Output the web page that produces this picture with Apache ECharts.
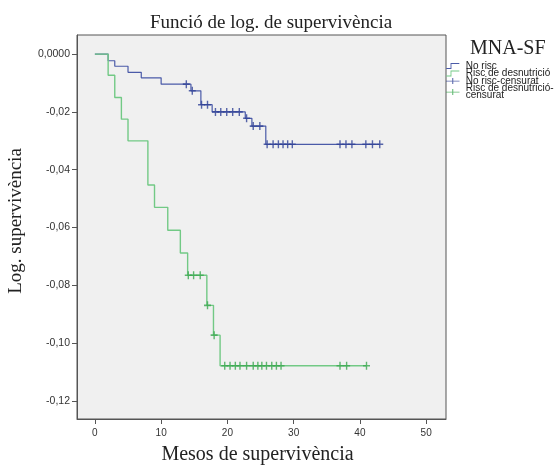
<!DOCTYPE html>
<html>
<head>
<meta charset="utf-8">
<script src="https://cdn.jsdelivr.net/npm/echarts@6/dist/echarts.min.js"></script>
<style>
  html, body { margin: 0; padding: 0; background: #fff; }
  #chart { width: 555px; height: 465px; }
</style>
</head>
<body>
<div id="chart"></div>
<script>
'use strict'

/* Step points: time (months) and log survival after the event */
var noRiscTime = [0, 2, 3, 5, 7, 10, 14.5, 16, 17.7, 22.7, 23.7, 25.8, 43];
var noRiscLog = [0, -0.0023, -0.0042, -0.0063, -0.0082, -0.0104, -0.0127, -0.0175, -0.0200, -0.0222, -0.0249, -0.0312, -0.0312];
var noRiscCens = [13.8, 14.7, 16.1, 17, 18.2, 19, 19.9, 20.8, 21.8, 22.9, 23.9, 24.9, 26, 26.9, 27.7, 28.4, 29.1, 29.8, 37, 37.9, 38.8, 40.9, 41.9, 43];

var riscTime = [0, 2, 3, 4, 5, 8, 9, 11, 12.9, 14, 16.9, 17.9, 18.9, 41];
var riscLog = [0, -0.0073, -0.0150, -0.0225, -0.0300, -0.0453, -0.0530, -0.0609, -0.0688, -0.0765, -0.0869, -0.0972, -0.1078, -0.1078];
var riscCens = [14.1, 14.9, 15.9, 17, 18, 19.6, 20.4, 21.2, 21.9, 22.9, 23.9, 24.6, 25.2, 25.9, 26.7, 27.4, 28.1, 37, 38, 41];

var xTicks = [0, 10, 20, 30, 40, 50];
var yTicks = [0, -0.02, -0.04, -0.06, -0.08, -0.10, -0.12];

var blue = '#4a5aa8', blueMark = '#2f4196';
var green = '#72c985', greenMark = '#3aa84f';

function pairs(t, v) {
    return t.map(function (x, i) { return [x, v[i]]; });
}
// level of the step curve at time x
function levelAt(t, v, x) {
    var y = v[0];
    for (var i = 0; i < t.length; i++) {
        if (t[i] <= x) y = v[i];
    }
    return y;
}
function censPairs(c, t, v) {
    return c.map(function (x) { return [x, levelAt(t, v, x)]; });
}

var plusPath = 'path://M4,0h2v4h4v2h-4v4h-2v-4h-4v-2h4z';
var stepIcon = 'path://M0,7H6V0H18V1.2H7.2V8.2H0Z';
var censIcon = 'path://M0,3.5H18V4.6H0ZM8.3,0H9.7V8H8.3Z';

var serif = '"Liberation Serif", "DejaVu Serif", serif';
var sans = '"Liberation Sans", Arial, sans-serif';

var chart = echarts.init(document.getElementById('chart'));

chart.setOption({
    animation: false,
    backgroundColor: '#fff',
    title: [{
        text: 'Funció de log. de supervivència',
        left: 145,
        top: 9,
        textStyle: { fontFamily: serif, fontSize: 19, fontWeight: 'normal', color: '#222' }
    }, {
        text: 'MNA-SF',
        left: 465,
        top: 34,
        textStyle: { fontFamily: serif, fontSize: 20, fontWeight: 'normal', color: '#222' }
    }],
    legend: {
        orient: 'vertical',
        left: 446,
        top: 61,
        itemWidth: 16,
        itemHeight: 6,
        itemGap: -2.5,
        padding: 0,
        textStyle: { fontFamily: sans, fontSize: 10, lineHeight: 7, color: '#222' },
        formatter: function (name) {
            return name === 'Risc de desnutrició-censurat' ? 'Risc de desnutrició-\ncensurat' : name;
        },
        data: [
            { name: 'No risc', icon: stepIcon },
            { name: 'Risc de desnutrició', icon: stepIcon },
            { name: 'No risc-censurat', icon: censIcon },
            { name: 'Risc de desnutrició-censurat', icon: censIcon }
        ]
    },
    grid: {
        left: 77,
        top: 35,
        right: 109,
        bottom: 46,
        outerBoundsMode: 'none',
        show: true,
        backgroundColor: '#f0f0f0',
        borderColor: '#555',
        borderWidth: 1
    },
    xAxis: {
        type: 'value',
        min: -2.7,
        max: 53,
        name: 'Mesos de supervivència',
        nameLocation: 'middle',
        nameGap: 26,
        nameTextStyle: { fontFamily: serif, fontSize: 20, color: '#222', padding: [0, 8, 0, 0] },
        splitLine: { show: false },
        axisLine: { show: true, onZero: false, lineStyle: { color: '#555' } },
        axisTick: { show: true, inside: false, length: 5, customValues: xTicks, lineStyle: { color: '#555' } },
        axisLabel: { customValues: xTicks, margin: 9, fontFamily: sans, fontSize: 10, color: '#333' }
    },
    yAxis: {
        type: 'value',
        min: -0.1262,
        max: 0.0066,
        name: 'Log. supervivència',
        nameLocation: 'middle',
        nameGap: 51,
        nameTextStyle: { fontFamily: serif, fontSize: 19, color: '#222', padding: [0, 0, 0, 12] },
        splitLine: { show: false },
        axisLine: { show: true, onZero: false, lineStyle: { color: '#555' } },
        axisTick: { show: true, inside: false, length: 5, customValues: yTicks, lineStyle: { color: '#555' } },
        axisLabel: {
            customValues: yTicks,
            margin: 7,
            fontFamily: sans,
            fontSize: 10.5,
            color: '#333',
            formatter: function (v) {
                if (Math.abs(v) < 1e-9) return '0,0000';
                return v.toFixed(2).replace('.', ',');
            }
        }
    },
    series: [{
        name: 'No risc',
        type: 'line',
        step: 'end',
        showSymbol: false,
        data: pairs(noRiscTime, noRiscLog),
        lineStyle: { color: blue, width: 1.2 },
        itemStyle: { color: blue },
        z: 2
    }, {
        name: 'Risc de desnutrició',
        type: 'line',
        step: 'end',
        showSymbol: false,
        data: pairs(riscTime, riscLog),
        lineStyle: { color: green, width: 1.4 },
        itemStyle: { color: green },
        z: 2
    }, {
        name: 'No risc-censurat',
        type: 'scatter',
        symbol: plusPath,
        symbolSize: [7, 8],
        data: censPairs(noRiscCens, noRiscTime, noRiscLog),
        itemStyle: { color: blueMark },
        z: 3
    }, {
        name: 'Risc de desnutrició-censurat',
        type: 'scatter',
        symbol: plusPath,
        symbolSize: [7, 8],
        data: censPairs(riscCens, riscTime, riscLog),
        itemStyle: { color: greenMark },
        z: 3
    }]
});
</script>
</body>
</html>
